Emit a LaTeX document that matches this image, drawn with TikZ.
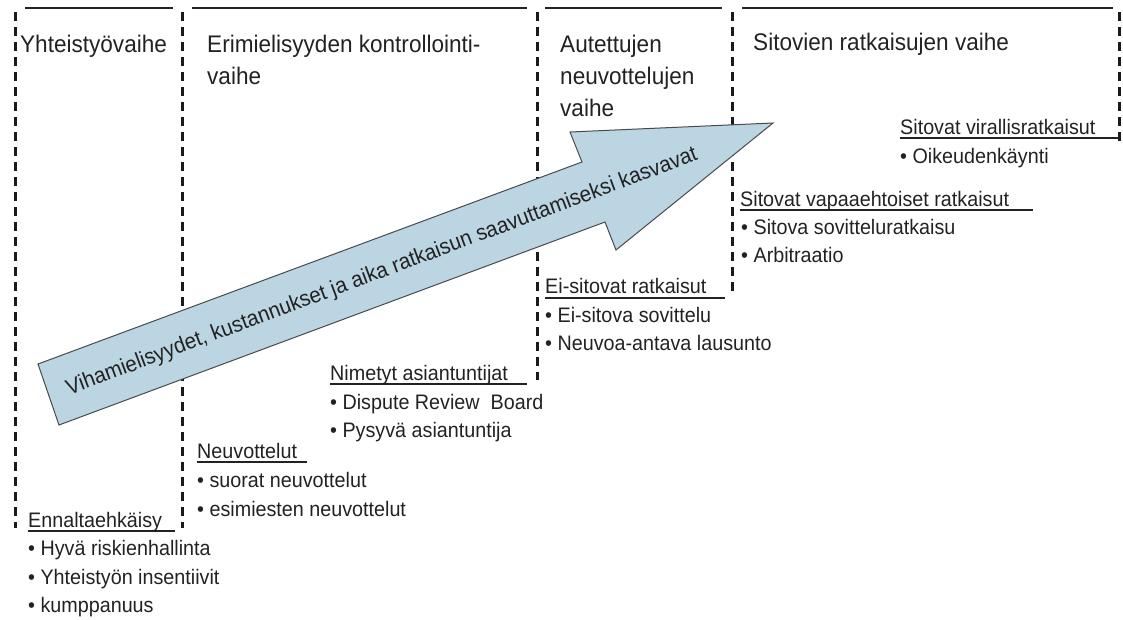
\documentclass[tikz,border=0pt]{standalone}
\usepackage{fontspec}
\setmainfont{Liberation Sans}[FakeStretch=0.94]
\definecolor{ink}{HTML}{222222}
\definecolor{rule}{HTML}{1A1A1A}
\definecolor{arrowfill}{HTML}{BCD5E2}
\definecolor{arrowline}{HTML}{4A4A4A}
\tikzset{
  phaseline/.style={rule, line width=3pt, dash pattern=on 9pt off 6pt},
  topline/.style={ink, line width=1.3pt},
  uline/.style={ink, line width=2pt},
  head/.style={anchor=base west, inner sep=0pt, text=ink, font=\fontsize{24}{28}\selectfont},
  item/.style={anchor=base west, inner sep=0pt, text=ink, font=\fontsize{21}{25}\selectfont},
  bigarrow/.style={fill=arrowfill, draw=arrowline, line width=1pt, line join=miter},
  arrowtext/.style={inner sep=0pt, text=ink, font=\fontsize{22}{26}\selectfont}
}
\begin{document}
\begin{tikzpicture}[x=1pt, y=-1pt]
\useasboundingbox (0,0) rectangle (1123,619);

% top rules of the phase columns
\coordinate (t1a) at (25,8);   \coordinate (t1b) at (173,8);
\coordinate (t2a) at (192,8);  \coordinate (t2b) at (527,8);
\coordinate (t3a) at (545,8);  \coordinate (t3b) at (722,8);
\coordinate (t4a) at (742,8);  \coordinate (t4b) at (1113,8);
\draw[topline] (t1a) -- (t1b);
\draw[topline] (t2a) -- (t2b);
\draw[topline] (t3a) -- (t3b);
\draw[topline] (t4a) -- (t4b);

% dashed phase borders
\coordinate (d1a) at (15,12);   \coordinate (d1b) at (15,528);
\coordinate (d2a) at (182,12);  \coordinate (d2b) at (182,528);
\coordinate (d3a) at (537,12);  \coordinate (d3b) at (537,380);
\coordinate (d4a) at (732,12);  \coordinate (d4b) at (732,292);
\coordinate (d5a) at (1119,12); \coordinate (d5b) at (1119,141);
\draw[phaseline] (d1a) -- (d1b);
\draw[phaseline] (d2a) -- (d2b);
\draw[phaseline] (d3a) -- (d3b);
\draw[phaseline] (d4a) -- (d4b);
\draw[phaseline] (d5a) -- (d5b);

% phase headings
\node[head] (h1) at (20,52) {Yhteistyövaihe};
\node[head] (h2a) at (207,52) {Erimielisyyden kontrollointi-};
\node[head] (h2b) at (207,84) {vaihe};
\node[head] (h3a) at (560,52) {Autettujen};
\node[head] (h3b) at (560,84) {neuvottelujen};
\node[head] (h3c) at (560,116) {vaihe};
\node[head] (h4) at (753,50) {Sitovien ratkaisujen vaihe};

% escalation arrow
\coordinate (tailT) at (38,364);
\coordinate (headT) at (582,162);
\coordinate (barbT) at (570,132);
\coordinate (tip)   at (773,123);
\coordinate (barbB) at (616,250);
\coordinate (headB) at (605,222);
\coordinate (tailB) at (59,425);
\draw[bigarrow] (tailT) -- (headT) -- (barbT) -- (tip) -- (barbB) -- (headB) -- (tailB) -- cycle;
\coordinate (amid) at (382,272);
\node[arrowtext, rotate=20.5] (atext) at (amid) {Vihamielisyydet, kustannukset ja aika ratkaisun saavuttamiseksi kasvavat};

% Ennaltaehkäisy
\node[item] (g1) at (28,527) {Ennaltaehkäisy};
\coordinate (g1e) at (175,531);
\draw[uline] (g1.base west |- g1e) -- (g1e);
\node[item] (g1i1) at (28,555) {• Hyvä riskienhallinta};
\node[item] (g1i2) at (28,584) {• Yhteistyön insentiivit};
\node[item] (g1i3) at (28,612) {• kumppanuus};

% Neuvottelut
\node[item] (g2) at (197,458) {Neuvottelut};
\coordinate (g2e) at (307,462);
\draw[uline] (g2.base west |- g2e) -- (g2e);
\node[item] (g2i1) at (197,487) {• suorat neuvottelut};
\node[item] (g2i2) at (197,516) {• esimiesten neuvottelut};

% Nimetyt asiantuntijat
\node[item] (g3) at (330,380) {Nimetyt asiantuntijat};
\coordinate (g3e) at (527,384);
\draw[uline] (g3.base west |- g3e) -- (g3e);
\node[item] (g3i1) at (330,409) {• Dispute Review\ \ Board};
\node[item] (g3i2) at (330,437) {• Pysyvä asiantuntija};

% Ei-sitovat ratkaisut
\node[item] (g4) at (545,293) {Ei-sitovat ratkaisut};
\coordinate (g4e) at (725,298);
\draw[uline] (g4.base west |- g4e) -- (g4e);
\node[item] (g4i1) at (545,322) {• Ei-sitova sovittelu};
\node[item] (g4i2) at (545,350) {• Neuvoa-antava lausunto};

% Sitovat vapaaehtoiset ratkaisut
\node[item] (g5) at (740,206) {Sitovat vapaaehtoiset ratkaisut};
\coordinate (g5e) at (1033,210);
\draw[uline] (g5.base west |- g5e) -- (g5e);
\node[item] (g5i1) at (741,234) {• Sitova sovitteluratkaisu};
\node[item] (g5i2) at (741,262) {• Arbitraatio};

% Sitovat virallisratkaisut
\node[item] (g6) at (900,134) {Sitovat virallisratkaisut};
\coordinate (g6e) at (1119,138);
\draw[uline] (g6.base west |- g6e) -- (g6e);
\node[item] (g6i1) at (900,163) {• Oikeudenkäynti};
\end{tikzpicture}
\end{document}
